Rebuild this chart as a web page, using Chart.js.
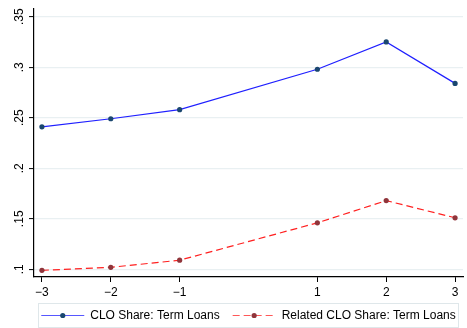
<!DOCTYPE html>
<html><head><meta charset="utf-8">
<script src="https://cdn.jsdelivr.net/npm/chart.js@4.4.0/dist/chart.umd.min.js"></script>
<style>html,body{margin:0;padding:0;background:#fff}#wrap{width:467px;height:328px}</style>
</head><body><div id="wrap"><canvas id="c" width="467" height="328"></canvas></div>
<script>
const periods = [-3, -2, -1, 1, 2, 3];
const cloShare = [0.241, 0.249, 0.258, 0.298, 0.325, 0.284];
const relatedCloShare = [0.099, 0.102, 0.109, 0.146, 0.168, 0.151];
const yTickValues = [0.10, 0.15, 0.20, 0.25, 0.30, 0.35];
const yTickLabels = ['.1', '.15', '.2', '.25', '.3', '.35'];
const xTickLabels = ['\u22123', '\u22122', '\u22121', '1', '2', '3'];
const seriesNames = ['CLO Share: Term Loans', 'Related CLO Share: Term Loans'];

const FONT = '"Liberation Sans", Arial, sans-serif';
const FSIZE = 12;

const yLabelPlugin = {
  id: 'yLabels',
  afterDraw(chart) {
    const s = chart.scales.y, ctx = chart.ctx;
    ctx.save();
    ctx.font = FSIZE + 'px ' + FONT;
    ctx.fillStyle = '#000';
    ctx.textAlign = 'center';
    ctx.textBaseline = 'middle';
    yTickValues.forEach((v, i) => {
      const y = s.getPixelForValue(v);
      ctx.save();
      ctx.translate(s.right - 14, y);
      ctx.rotate(-Math.PI / 2);
      ctx.fillText(yTickLabels[i], 0, 0);
      ctx.restore();
    });
    ctx.restore();
  }
};

const legendPlugin = {
  id: 'customLegend',
  afterDraw(chart) {
    const ctx = chart.ctx, ca = chart.chartArea;
    const H = chart.height;
    const boxL = ca.left + 4.5, boxR = ca.right - 4.5, boxT = H - 24.5, boxB = H - 0.5;
    ctx.save();
    ctx.fillStyle = '#fff';
    ctx.fillRect(boxL, boxT, boxR - boxL, boxB - boxT);
    ctx.strokeStyle = '#dfe7ea';
    ctx.lineWidth = 1;
    ctx.strokeRect(boxL, boxT, boxR - boxL, boxB - boxT);
    ctx.font = FSIZE + 'px ' + FONT;
    const symW = 43, gap = 6, itemGap = 13;
    const widths = seriesNames.map(n => ctx.measureText(n).width);
    const total = widths.reduce((a, w) => a + symW + gap + w, 0) + itemGap * (seriesNames.length - 1);
    let x = (boxL + boxR) / 2 - total / 2;
    const cy = (boxT + boxB) / 2;
    chart.data.datasets.forEach((ds, i) => {
      ctx.save();
      ctx.strokeStyle = ds.borderColor;
      ctx.globalAlpha = 0.75;
      ctx.lineWidth = ds.borderWidth;
      ctx.setLineDash(ds.borderDash || []);
      ctx.beginPath();
      ctx.moveTo(x, cy);
      ctx.lineTo(x + symW, cy);
      ctx.stroke();
      ctx.globalAlpha = 1;
      ctx.setLineDash([]);
      ctx.fillStyle = ds.pointBackgroundColor;
      ctx.beginPath();
      ctx.arc(x + symW / 2, cy, ds.pointRadius, 0, Math.PI * 2);
      ctx.fill();
      ctx.restore();
      ctx.fillStyle = '#000';
      ctx.textAlign = 'left';
      ctx.textBaseline = 'middle';
      ctx.fillText(seriesNames[i], x + symW + gap, cy);
      x += symW + gap + widths[i] + itemGap;
    });
    ctx.restore();
  }
};

new Chart(document.getElementById('c'), {
  type: 'line',
  data: {
    datasets: [
      {
        label: seriesNames[0],
        data: periods.map((p, i) => ({ x: p, y: cloShare[i] })),
        borderColor: '#1f1fff',
        borderWidth: 1.2,
        pointBackgroundColor: '#1a476f',
        pointBorderColor: '#1a476f',
        pointRadius: 2.6,
        pointBorderWidth: 0,
        tension: 0
      },
      {
        label: seriesNames[1],
        data: periods.map((p, i) => ({ x: p, y: relatedCloShare[i] })),
        borderColor: '#ff2020',
        borderWidth: 1.2,
        borderDash: [7, 4],
        pointBackgroundColor: '#90353b',
        pointBorderColor: '#90353b',
        pointRadius: 2.6,
        pointBorderWidth: 0,
        tension: 0
      }
    ]
  },
  options: {
    responsive: false,
    devicePixelRatio: 1,
    animation: false,
    layout: { padding: { left: 0, top: 9, right: 2, bottom: 28 } },
    plugins: { legend: { display: false }, tooltip: { enabled: false } },
    scales: {
      x: {
        type: 'linear',
        min: -3.115,
        max: 3.115,
        afterBuildTicks(s) { s.ticks = periods.map(v => ({ value: v })); },
        afterFit(s) { s.height = 23; },
        ticks: {
          padding: 3,
          color: '#000',
          font: { family: FONT, size: FSIZE },
          maxRotation: 0,
          autoSkip: false,
          callback(v) { const i = periods.indexOf(v); return i >= 0 ? xTickLabels[i] : ''; }
        },
        grid: { drawOnChartArea: false, drawTicks: true, tickLength: 5, tickColor: '#000', tickWidth: 1 },
        border: { color: '#000', width: 1.2 }
      },
      y: {
        type: 'linear',
        min: 0.0924,
        max: 0.3576,
        afterBuildTicks(s) { s.ticks = yTickValues.map(v => ({ value: v })); },
        afterFit(s) { s.width = 34; },
        ticks: { display: false },
        grid: { color: '#e9f0f2', lineWidth: 1.2, drawTicks: true, tickLength: 5, tickColor: '#000', tickWidth: 1 },
        border: { color: '#000', width: 1.2 }
      }
    }
  },
  plugins: [yLabelPlugin, legendPlugin]
});
</script>
</body></html>
